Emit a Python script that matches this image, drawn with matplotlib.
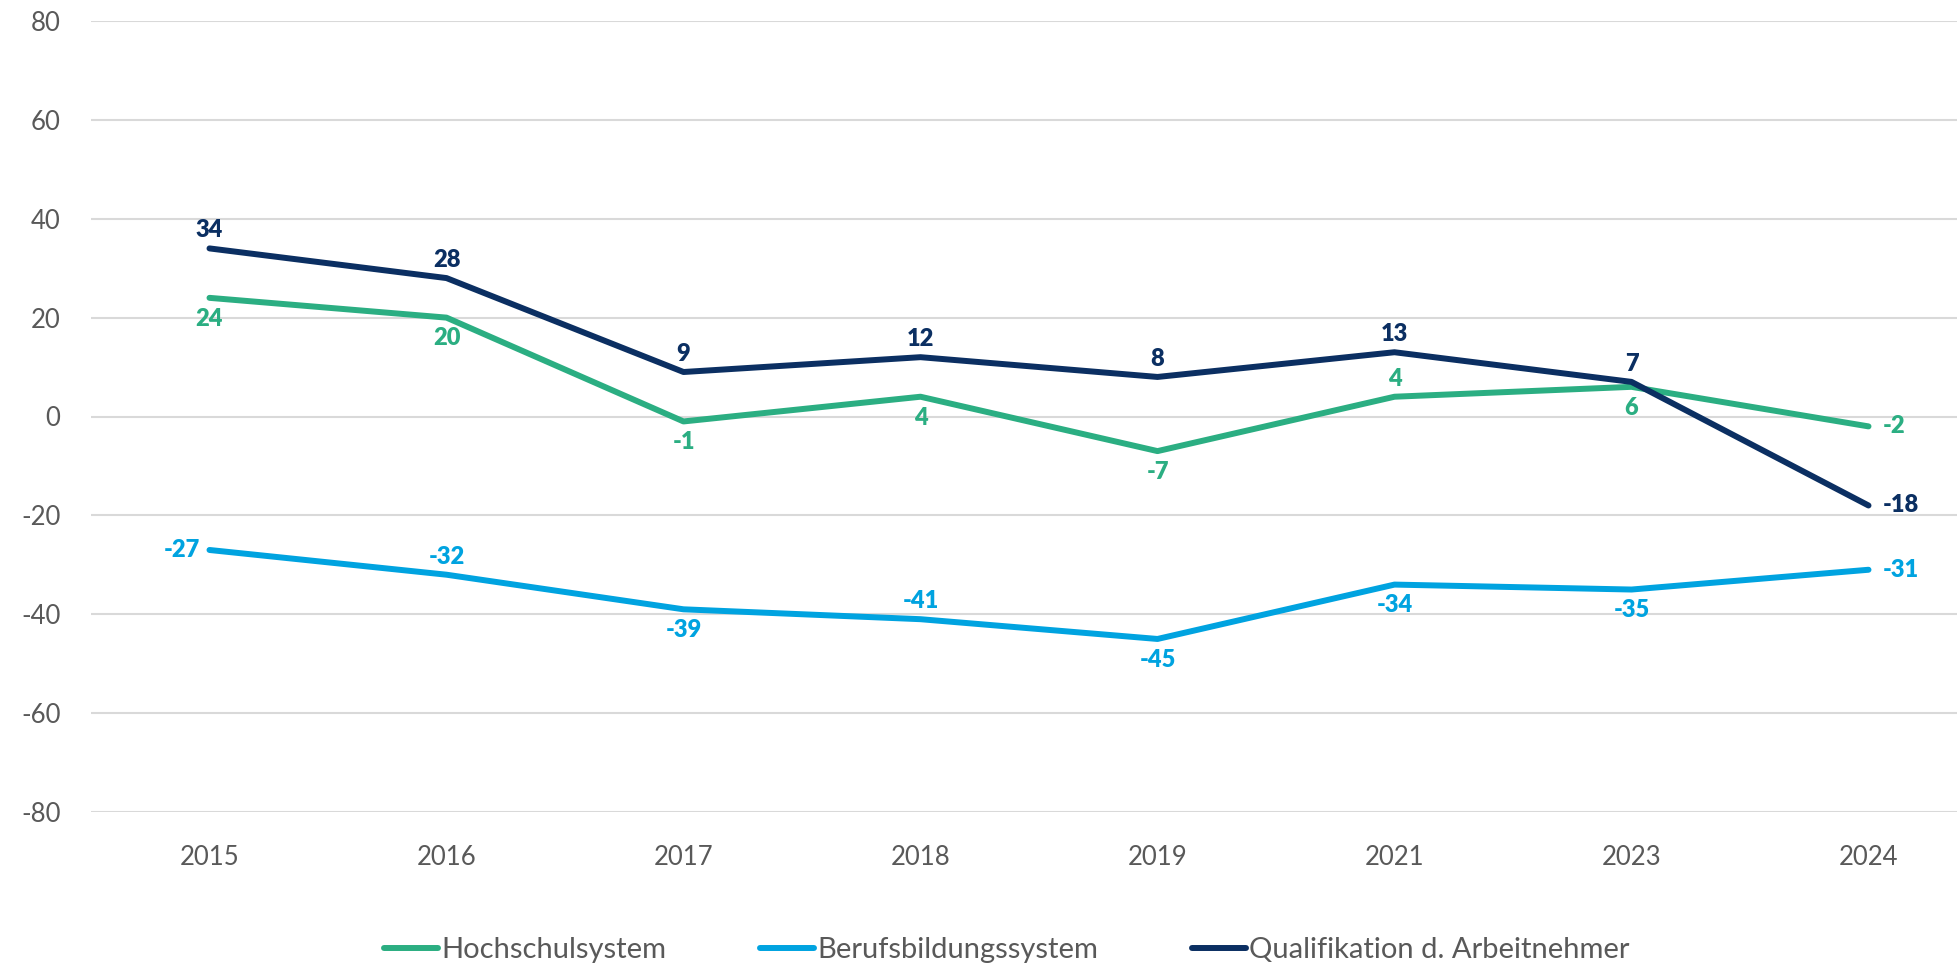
import matplotlib
matplotlib.use("Agg")
import matplotlib.pyplot as plt
from matplotlib.lines import Line2D

plt.rcParams['font.family'] = ['Lato', 'DejaVu Sans']
plt.rcParams['axes.unicode_minus'] = False

years = ["2015", "2016", "2017", "2018", "2019", "2021", "2023", "2024"]
hochschul = [24, 20, -1, 4, -7, 4, 6, -2]
berufsbildung = [-27, -32, -39, -41, -45, -34, -35, -31]
qualifikation = [34, 28, 9, 12, 8, 13, 7, -18]
series_names = ["Hochschulsystem", "Berufsbildungssystem", "Qualifikation d. Arbeitnehmer"]
yticks = [-80, -60, -40, -20, 0, 20, 40, 60, 80]

# label placement per point
pos_hoch = ["below", "below", "below", "below", "below", "above", "below", "right"]
pos_beruf = ["left", "above", "below", "above", "below", "below", "below", "right"]
pos_qual = ["above"] * 7 + ["right"]

colors = ["#2BAE82", "#00A3E0", "#0B2F62"]

W, H = 1958, 965
fig = plt.figure(figsize=(W / 100, H / 100), dpi=100)
left_px, right_px = 91, 1987
top_px, bot_px = 21, 812
ax = fig.add_axes([left_px / W, 1 - bot_px / H, (right_px - left_px) / W, (bot_px - top_px) / H])

x = list(range(len(years)))
for vals, c, name, poss in zip([hochschul, berufsbildung, qualifikation], colors, series_names,
                               [pos_hoch, pos_beruf, pos_qual]):
    ax.plot(x, vals, color=c, lw=4.3, solid_capstyle='round', solid_joinstyle='round', label=name, zorder=3)
    for xi, v, p in zip(x, vals, poss):
        if p == "above":
            off, ha = (0, 13), "center"
        elif p == "below":
            off, ha = (0, -15), "center"
        elif p == "right":
            off, ha = (10, 0), "left"
        else:
            off, ha = (-7, 0), "right"
        ax.annotate(f"{v}", (xi, v), xytext=off, textcoords="offset points",
                    ha=ha, va="center", color=c, fontsize=17, fontweight="heavy", zorder=4)

ax.set_xlim(-0.5, len(years) - 0.5)
ax.set_ylim(-80, 80)
ax.set_yticks(yticks)
ax.set_xticks(x)
ax.set_xticklabels(years)
ax.grid(axis='y', color="#D9D9D9", lw=1.5, zorder=0)
ax.set_axisbelow(True)
for s in ax.spines.values():
    s.set_visible(False)
ax.tick_params(axis='both', length=0, labelsize=18.5, labelcolor="#595959")
ax.tick_params(axis='y', pad=22)
ax.tick_params(axis='x', pad=24)

handles = [Line2D([0], [0], color=c, lw=4.3, solid_capstyle='round') for c in colors]
fig.legend(handles, series_names, loc="center", bbox_to_anchor=(1007 / W, 1 - 950 / H), ncol=3,
           frameon=False, fontsize=21, labelcolor="#595959", handlelength=1.85,
           handletextpad=0.12, columnspacing=3.2)

fig.savefig("out.png", dpi=100)
